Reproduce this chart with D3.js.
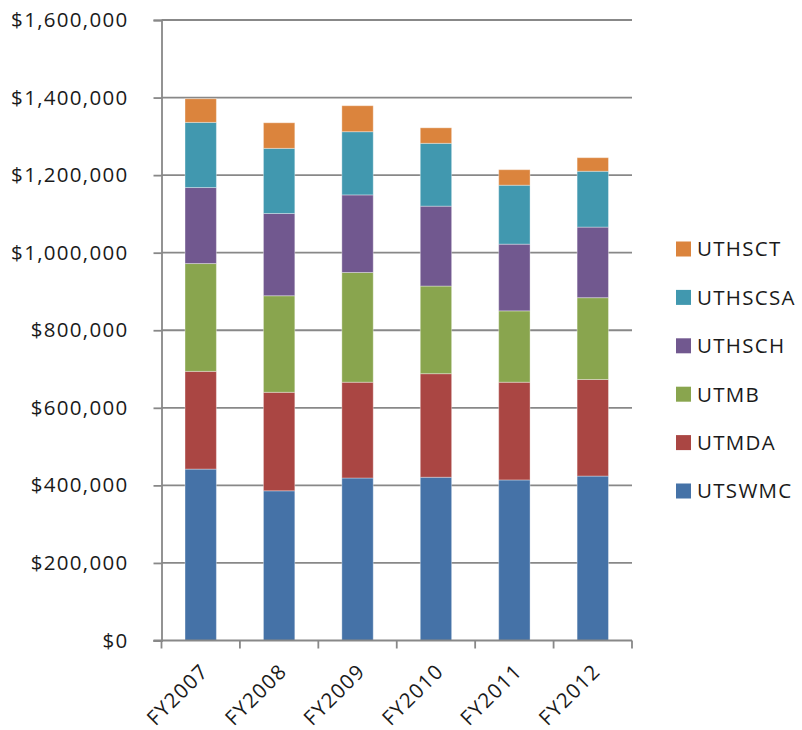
<!DOCTYPE html>
<html>
  <head>
    <meta charset="utf-8">
    <title>Stacked bars FY2007-FY2012</title>
    <script src="https://cdn.jsdelivr.net/npm/d3@7"></script>
    <style>
      body { margin: 0; background: #fff; }
      text { font-family: "Open Sans", sans-serif; font-size: 20.5px; fill: #1a1a1a; letter-spacing: 1.3px; }
    </style>
  </head>
  <body>
    <svg width="802" height="730"></svg>
    <script>
      // data
      var years = ["FY2007", "FY2008", "FY2009", "FY2010", "FY2011", "FY2012"];
      var series = ["UTSWMC", "UTMDA", "UTMB", "UTHSCH", "UTHSCSA", "UTHSCT"];
      var UTSWMC  = [442000, 386000, 419000, 421000, 414000, 424000];
      var UTMDA   = [252000, 254000, 247000, 267000, 252000, 249000];
      var UTMB    = [278000, 249000, 283000, 226000, 184000, 211000];
      var UTHSCH  = [196000, 212000, 200000, 206000, 172000, 182000];
      var UTHSCSA = [168000, 168000, 163000, 162000, 152000, 144000];
      var UTHSCT  = [ 61000,  66000,  67000,  40000,  40000,  35000];
      var yTicks = [0, 200000, 400000, 600000, 800000, 1000000, 1200000, 1400000, 1600000];
      var colors = ["#4572A7", "#AA4643", "#89A54E", "#71588F", "#4198AF", "#DB843D"];

      var values = [UTSWMC, UTMDA, UTMB, UTHSCH, UTHSCSA, UTHSCT];
      var rows = years.map(function(yr, i){
        var r = {year: yr};
        series.forEach(function(s, k){ r[s] = values[k][i]; });
        return r;
      });

      var svg = d3.select("svg");
      var plot = {left: 161.5, right: 632, top: 20, bottom: 640.5};

      var x = d3.scaleBand().domain(years).range([plot.left, plot.right])
        .paddingInner(0.6).paddingOuter(0.3);
      var y = d3.scaleLinear().domain([0, 1600000]).range([plot.bottom, plot.top]);
      var color = d3.scaleOrdinal().domain(series).range(colors);

      //网格线
      svg.append("g").selectAll("line")
        .data(yTicks.slice(1))
        .enter().append("line")
        .attr("x1", plot.left).attr("x2", plot.right)
        .attr("y1", function(d){ return y(d); })
        .attr("y2", function(d){ return y(d); })
        .attr("stroke", "#888").attr("stroke-width", 1.8);

      var stacked = d3.stack().keys(series)(rows);

      svg.append("g").selectAll("g")
        .data(stacked)
        .enter().append("g")
        .attr("fill", function(d){ return color(d.key); })
        .selectAll("rect")
        .data(function(d){ return d; })
        .enter().append("rect")
        .attr("x", function(d){ return x(d.data.year); })
        .attr("width", x.bandwidth())
        .attr("y", function(d){ return y(d[1]); })
        .attr("height", function(d){ return y(d[0]) - y(d[1]); })
        .attr("stroke", "rgba(255,255,255,0.35)")
        .attr("stroke-width", 1);

      // y axis
      var yAxis = d3.axisLeft(y).tickValues(yTicks).tickSize(8).tickPadding(25)
        .tickFormat(function(d){ return "$" + d3.format(",")(d); });
      var gy = svg.append("g").attr("transform", "translate(" + plot.left + ",0)").call(yAxis);
      gy.select(".domain").attr("stroke", "#888").attr("stroke-width", 1.8);
      gy.selectAll(".tick line").attr("stroke", "#888").attr("stroke-width", 1.8);
      gy.selectAll(".tick text").attr("fill", "#1a1a1a");
      gy.attr("font-size", null).attr("font-family", null);

      // x axis line + ticks at band edges
      var edges = years.map(function(d){ return x(d) - x.step() * x.paddingInner() / 2; });
      edges.push(plot.right);
      svg.append("line")
        .attr("x1", plot.left - 8).attr("x2", plot.right)
        .attr("y1", plot.bottom).attr("y2", plot.bottom)
        .attr("stroke", "#888").attr("stroke-width", 1.8);
      svg.append("g").selectAll("line")
        .data(edges).enter().append("line")
        .attr("x1", function(d){ return d; }).attr("x2", function(d){ return d; })
        .attr("y1", plot.bottom).attr("y2", plot.bottom + 8)
        .attr("stroke", "#888").attr("stroke-width", 1.8);

      svg.append("g").selectAll("text")
        .data(years).enter().append("text")
        .attr("text-anchor", "end")
        .attr("transform", function(d){
          return "translate(" + (x(d) + x.bandwidth() / 2 + 9) + "," + (plot.bottom + 32) + ") rotate(-45)";
        })
        .text(function(d){ return d; });

      // legend
      var legend = svg.append("g").selectAll("g")
        .data(series.slice().reverse())
        .enter().append("g")
        .attr("transform", function(d, i){ return "translate(676," + (249 + i * 48.4) + ")"; });
      legend.append("rect")
        .attr("x", 0).attr("y", -7.5).attr("width", 15).attr("height", 15)
        .attr("fill", function(d){ return color(d); });
      legend.append("text")
        .attr("x", 21).attr("dy", "0.36em")
        .text(function(d){ return d; });
    </script>
  </body>
</html>
